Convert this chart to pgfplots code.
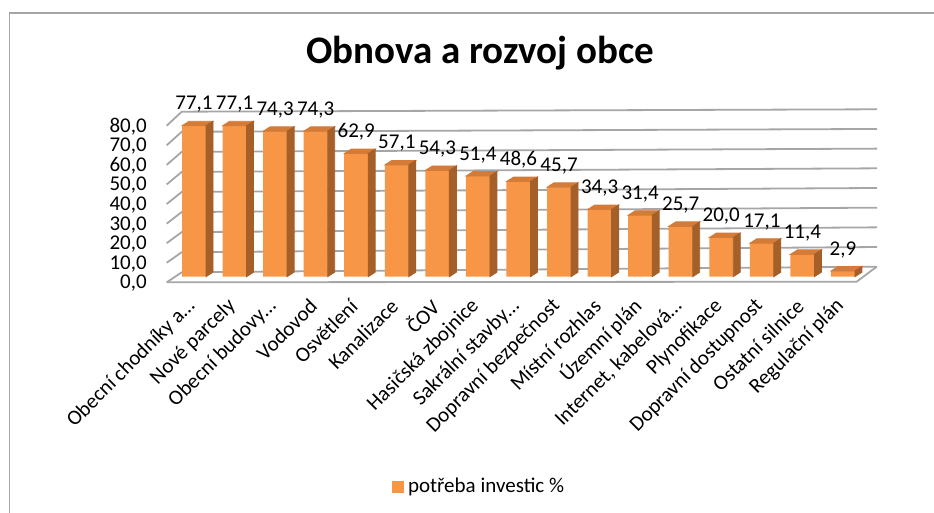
\documentclass[border=0pt]{standalone}
\usepackage{fontspec}
\setmainfont{Carlito}
\usepackage{pgfplots}
\usepackage{pgfplotstable}
\pgfplotsset{compat=1.18}

\definecolor{barfront}{HTML}{F79646}
\definecolor{bartop}{HTML}{D47B38}
\definecolor{barside}{HTML}{A55F29}
\definecolor{gridc}{HTML}{A6A6A6}

% empty mark: the scatter code below draws the column faces itself
\pgfdeclareplotmark{nothing}{}

% i = category index, v = potreba investic %
\pgfplotstableread{
i v
0 77.1
1 77.1
2 74.3
3 74.3
4 62.9
5 57.1
6 54.3
7 51.4
8 48.6
9 45.7
10 34.3
11 31.4
12 25.7
13 20.0
14 17.1
15 11.4
16 2.9
}\datatable

\begin{document}
\begin{tikzpicture}
\useasboundingbox (0,0) rectangle (467pt,256.5pt);
% chart frame (only top and left visible)
\draw[gray!70, line width=0.8pt] (4.75pt,0pt) -- (4.75pt,250pt) -- (467pt,250pt);

% walls: gridlines with perspective slant on the left
\foreach \v in {0,10,...,80} {
  \pgfmathsetmacro\yf{(513-(282.3-1.957*\v))/2}
  \pgfmathsetmacro\yb{(513-(272.3-2.0075*\v))/2}
  \pgfmathsetmacro\yr{\yb+(5.6-0.04*\v)/2}
  \draw[gridc, line width=0.9pt] (83.35pt,\yf pt) -- (90.85pt,\yb pt) -- (438.5pt,\yr pt);
}
% floor outline
\draw[gridc, line width=0.9pt] (83.35pt,115.35pt) -- (428.35pt,115.65pt) -- (438.35pt,123.15pt);

% title
\node[font=\bfseries\fontsize{19.5}{22}\selectfont] at (240pt,230pt) {Obnova a rozvoj obce};

\begin{axis}[
    at={(87.55pt,118.15pt)}, anchor=south west,
    x=20.28pt, y=0.9785pt,
    xmin=-0.466, xmax=16.63,
    ymin=0, ymax=80,
    clip=false,
    axis line style={draw=none},
    major tick length=0pt,
    ytick={0,10,...,80},
    xtick=data,
    xticklabels={Obecní chodníky a…, Nové parcely, Obecní budovy…, Vodovod,
      Osvětlení, Kanalizace, ČOV, Hasičská zbojnice, Sakrální stavby…,
      Dopravní bezpečnost, Místní rozhlas, Územní plán, {Internet, kabelová…},
      Plynofikace, Dopravní dostupnost, Ostatní silnice, Regulační plán},
    /pgf/number format/.cd, fixed, fixed zerofill, precision=1, use comma,
      assume math mode=true,
    /pgfplots/.cd,
    tick label style={font=\fontsize{10.5}{12}\selectfont},
    yticklabel style={anchor=east, inner sep=0pt, xshift=-14pt, yshift=-3.3pt},
    xticklabel style={anchor=east, inner sep=0pt, xshift=-1pt, yshift=-13pt, rotate=45},
    legend style={at={(0.3129,-1.343)}, anchor=west, draw=none, fill=none,
      font=\fontsize{10.5}{12}\selectfont, inner sep=0pt},
    legend image code/.code={\fill[barfront] (0pt,-2.9pt) rectangle (5.8pt,2.9pt);},
]
% top and side faces of the 3D columns
\addplot[forget plot, scatter, only marks, mark=nothing,
  visualization depends on={rawy \as \rawv},
  scatter/@pre marker code/.code={%
    \pgfmathsetmacro\hh{\rawv*0.9785}%
    \fill[bartop] (-6pt,0pt) -- (-2.5pt,2.25pt) -- (9.5pt,2.25pt) -- (6pt,0pt) -- cycle;
    \fill[barside] (6pt,0pt) -- (9.5pt,2.25pt) -- (9.5pt,{(2.25-\hh)*1pt}) -- (6pt,{-\hh*1pt}) -- cycle;
  },
  scatter/@post marker code/.code={},
] table[x=i, y=v] {\datatable};
% front faces
\addplot[ybar, bar width=12pt, fill=barfront, draw=none,
  nodes near coords,
  every node near coord/.append style={anchor=base, yshift=8pt,
    font=\fontsize{10.5}{12}\selectfont, text=black},
] table[x=i, y=v] {\datatable};
\addlegendentry{potřeba investic \%}
\end{axis}
\end{tikzpicture}
\end{document}
